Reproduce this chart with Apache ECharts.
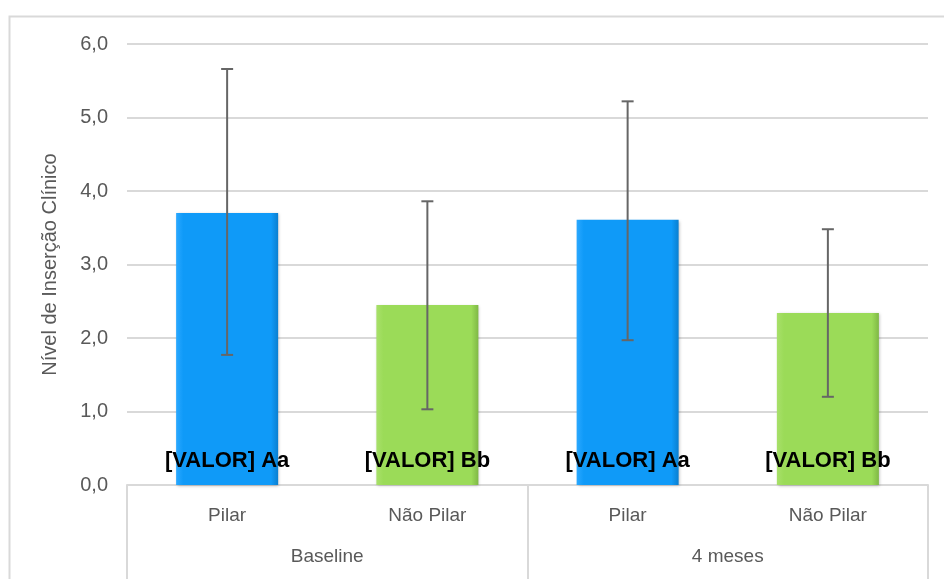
<!DOCTYPE html>
<html>
<head>
<meta charset="utf-8">
<script src="https://cdn.jsdelivr.net/npm/echarts@6/dist/echarts.min.js"></script>
<style>
html,body{margin:0;padding:0;background:#fff;}
#chart{width:944px;height:579px;}
</style>
</head>
<body>
<div id="chart"></div>
<script>
var categories = ['Pilar', 'Não Pilar', 'Pilar', 'Não Pilar'];
var groups = ['Baseline', '4 meses'];
var means = [3.70, 2.45, 3.61, 2.34];
var errLow = [1.77, 1.03, 1.97, 1.20];
var errHigh = [5.66, 3.86, 5.22, 3.48];
var labels = ['[VALOR] Aa', '[VALOR] Bb', '[VALOR] Aa', '[VALOR] Bb'];
var yTicks = ['0,0', '1,0', '2,0', '3,0', '4,0', '5,0', '6,0'];

var FONT = '"Liberation Sans Narrow", "Arial Narrow", "Liberation Sans", sans-serif';

function grad(top, mid, bot) {
  return new echarts.graphic.LinearGradient(0, 0, 1, 0, [
    {offset: 0, color: top},
    {offset: 0.07, color: mid},
    {offset: 0.93, color: mid},
    {offset: 1, color: bot}
  ]);
}
var colors = [
  grad('#2aa8ff', '#0f9af8', '#0a7fd0'),
  grad('#a8e06a', '#9bdb58', '#7fb845'),
  grad('#2aa8ff', '#0f9af8', '#0a7fd0'),
  grad('#a8e06a', '#9bdb58', '#7fb845')
];

var barData = means.map(function (v, i) {
  return {value: v, itemStyle: {color: colors[i]}, label: {formatter: labels[i]}};
});
var errData = means.map(function (v, i) { return [i, errLow[i], errHigh[i]]; });

var chart = echarts.init(document.getElementById('chart'));
chart.setOption({
  animation: false,
  backgroundColor: '#fff',
  graphic: [{
    type: 'rect', left: 7, top: 14,
    shape: {width: 960, height: 600},
    style: {fill: 'none', stroke: '#d9d9d9', lineWidth: 2},
    silent: true, z: -10
  }],
  grid: {left: 127, right: 16, top: 44, bottom: 94},
  xAxis: [{
    type: 'category',
    data: categories,
    axisLine: {show: true, lineStyle: {color: '#d9d9d9', width: 2}},
    axisTick: {show: false},
    axisLabel: {color: '#595959', fontSize: 19, fontFamily: FONT, margin: 21}
  }, {
    type: 'category',
    data: groups,
    position: 'bottom',
    axisLine: {show: false},
    axisTick: {show: true, length: 100, lineStyle: {color: '#d9d9d9', width: 2}},
    axisLabel: {color: '#595959', fontSize: 19, fontFamily: FONT, margin: 62}
  }],
  yAxis: {
    type: 'value',
    min: 0, max: 6, interval: 1,
    name: 'Nível de Inserção Clínico',
    nameLocation: 'middle',
    nameGap: 67,
    nameTextStyle: {color: '#595959', fontSize: 20, fontFamily: FONT},
    axisLine: {show: false},
    axisTick: {show: false},
    axisLabel: {
      color: '#595959', fontSize: 20, fontFamily: FONT, margin: 19,
      formatter: function (v) { return yTicks[Math.round(v)]; }
    },
    splitLine: {lineStyle: {color: '#d9d9d9', width: 2}}
  },
  series: [{
    type: 'bar',
    data: barData,
    barWidth: 102,
    xAxisIndex: 0,
    itemStyle: {shadowColor: 'rgba(0,0,0,0.25)', shadowBlur: 3, shadowOffsetX: 1, shadowOffsetY: 1},
    label: {
      show: true,
      position: 'insideBottom',
      distance: 13,
      color: '#000',
      fontSize: 22,
      fontWeight: 'bold',
      fontFamily: FONT
    }
  }, {
    type: 'custom',
    xAxisIndex: 0,
    z: 10,
    data: errData,
    renderItem: function (params, api) {
      var x = api.value(0);
      var lo = api.coord([x, api.value(1)]);
      var hi = api.coord([x, api.value(2)]);
      var hw = 6;
      var st = {stroke: '#666666', lineWidth: 2};
      return {
        type: 'group',
        children: [
          {type: 'line', shape: {x1: lo[0], y1: lo[1], x2: hi[0], y2: hi[1]}, style: st},
          {type: 'line', shape: {x1: lo[0] - hw, y1: lo[1], x2: lo[0] + hw, y2: lo[1]}, style: st},
          {type: 'line', shape: {x1: hi[0] - hw, y1: hi[1], x2: hi[0] + hw, y2: hi[1]}, style: st}
        ]
      };
    }
  }]
});
</script>
</body>
</html>
